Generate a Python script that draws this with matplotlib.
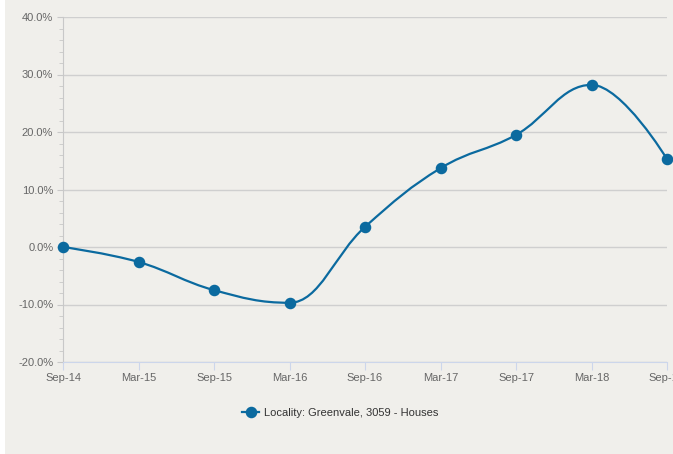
import numpy as np
import matplotlib
matplotlib.use('Agg')
import matplotlib.pyplot as plt
from matplotlib.path import Path
from matplotlib.patches import PathPatch, Rectangle
from matplotlib.lines import Line2D
from matplotlib.ticker import MultipleLocator, FuncFormatter

periods = ['Sep-14', 'Mar-15', 'Sep-15', 'Mar-16', 'Sep-16', 'Mar-17', 'Sep-17', 'Mar-18', 'Sep-18']
growth = [0.0, -2.6, -7.5, -9.7, 3.5, 13.7, 19.5, 28.2, 15.3]
series_name = 'Locality: Greenvale, 3059 - Houses'

line_col = '#0b6a9f'
bg = '#f0efeb'
plt.rcParams['font.family'] = ['Liberation Sans', 'DejaVu Sans']


def spline_path(xs, ys, smoothing=1.5):
    # highcharts-like spline: cubic bezier segments between points
    n = len(xs)
    ctrl = []
    for i in range(n):
        x, y = xs[i], ys[i]
        if i == 0 or i == n - 1:
            ctrl.append((x, y, x, y))
            continue
        lx, ly = xs[i - 1], ys[i - 1]
        nx, ny = xs[i + 1], ys[i + 1]
        d = smoothing + 1
        lcx = (smoothing * x + lx) / d
        lcy = (smoothing * y + ly) / d
        rcx = (smoothing * x + nx) / d
        rcy = (smoothing * y + ny) / d
        if rcx != lcx:
            diff = ((rcy - lcy) * (rcx - x)) / (rcx - lcx) + y - rcy
            lcy += diff
            rcy += diff
        if lcy > ly and lcy > y:
            lcy = max(ly, y)
            rcy = 2 * y - lcy
        elif lcy < ly and lcy < y:
            lcy = min(ly, y)
            rcy = 2 * y - lcy
        if rcy > ny and rcy > y:
            rcy = max(ny, y)
            lcy = 2 * y - rcy
        elif rcy < ny and rcy < y:
            rcy = min(ny, y)
            lcy = 2 * y - rcy
        ctrl.append((lcx, lcy, rcx, rcy))
    verts = [(xs[0], ys[0])]
    codes = [Path.MOVETO]
    for i in range(1, n):
        verts += [(ctrl[i - 1][2], ctrl[i - 1][3]), (ctrl[i][0], ctrl[i][1]), (xs[i], ys[i])]
        codes += [Path.CURVE4] * 3
    return Path(verts, codes)


fig = plt.figure(figsize=(6.73, 4.54), dpi=100, facecolor='white')
fig.patches.append(Rectangle((5 / 673, 0), 1, 1, transform=fig.transFigure,
                             facecolor=bg, edgecolor='none', zorder=-5))
ax = fig.add_axes([63 / 673, 1 - 362 / 454, (667 - 63) / 673, (362 - 17) / 454])
ax.set_facecolor(bg)

xs = np.arange(len(periods))
ax.add_patch(PathPatch(spline_path(xs, growth), facecolor='none', edgecolor=line_col,
                       lw=1.6, zorder=3, clip_on=False))
ax.plot(xs, growth, 'o', color=line_col, ms=7.3, zorder=4, clip_on=False)

ax.set_xlim(0, len(periods) - 1)
ax.set_ylim(-20, 40)
ax.yaxis.set_major_locator(MultipleLocator(10))
ax.yaxis.set_minor_locator(MultipleLocator(2))
ax.yaxis.set_major_formatter(FuncFormatter(lambda v, p: f'{v:.1f}%'))
ax.set_xticks(xs)
ax.set_xticklabels(periods)

ax.grid(axis='y', color='#cfcfcf', lw=1)
ax.set_axisbelow(True)
for s in ['top', 'right']:
    ax.spines[s].set_visible(False)
ax.spines['left'].set_color('#c8c8c8')
ax.spines['bottom'].set_color('#ccd6eb')
ax.tick_params(axis='y', which='major', length=4, color='#c8c8c8', labelsize=8,
               labelcolor='#666666', pad=3)
ax.tick_params(axis='y', which='minor', length=3, color='#c8c8c8')
ax.tick_params(axis='x', length=6, color='#ccd6eb', labelsize=8, labelcolor='#666666', pad=2)

handle = Line2D([], [], color=line_col, lw=1.6, marker='o', ms=7.3)
fig.legend([handle], [series_name], loc='center', bbox_to_anchor=(340 / 673, 1 - 413 / 454),
           frameon=False, fontsize=8, labelcolor='#333333', handlelength=1.6, handletextpad=0.4)

fig.savefig('out.png', dpi=100, facecolor=fig.get_facecolor())
